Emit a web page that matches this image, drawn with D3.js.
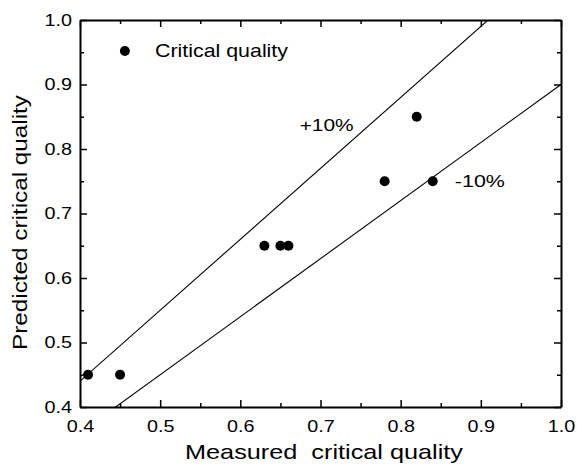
<!DOCTYPE html>
<html>
<head>
<meta charset="utf-8">
<script src="https://cdn.jsdelivr.net/npm/d3@7"></script>
<style>
  body { margin: 0; background: #fff; }
  text { font-family: "Liberation Sans", Arial, sans-serif; fill: #000; }
</style>
</head>
<body>
<div id="chart"></div>
<script>
// measured vs predicted critical quality
const measured  = [0.41, 0.45, 0.63, 0.65, 0.66, 0.78, 0.84, 0.82]
const predicted = [0.45, 0.45, 0.65, 0.65, 0.65, 0.75, 0.75, 0.85]
const majorTicks = [0.4, 0.5, 0.6, 0.7, 0.8, 0.9, 1.0]
const minorTicks = [0.45, 0.55, 0.65, 0.75, 0.85, 0.95]
const bandFactors = [1.1, 0.9]
const bandLabels = ['+10%', '-10%']

const width = 577, height = 465
const margin = {top: 20, right: 16, bottom: 58, left: 80}

let svg = d3.select('#chart').append('svg')
  .attr('width', width)
  .attr('height', height)

let x = d3.scaleLinear().domain([0.4, 1.0]).range([margin.left, width - margin.right])
let y = d3.scaleLinear().domain([0.4, 1.0]).range([height - margin.bottom, margin.top])

const pts = measured.map((m, i) => ({m: m, p: predicted[i]}))

// clip for the band lines
svg.append('clipPath').attr('id', 'plot-clip')
  .append('rect')
  .attr('x', x(0.4)).attr('y', y(1.0))
  .attr('width', x(1.0) - x(0.4)).attr('height', y(0.4) - y(1.0))

let lines = svg.append('g').attr('clip-path', 'url(#plot-clip)')
bandFactors.forEach(f => {
  lines.append('line')
    .attr('x1', x(0.4)).attr('y1', y(0.4 * f))
    .attr('x2', x(1.0)).attr('y2', y(1.0 * f))
    .attr('stroke', '#000')
    .attr('stroke-width', 1.1)
})

// axes, ticks pointing inward, mirrored top/right
const fmt = d3.format('.1f')
function addAxis(axisFn, scale, transform, showLabels) {
  let g = svg.append('g').attr('transform', transform)
    .call(axisFn(scale).tickValues(majorTicks).tickSizeInner(-7).tickSizeOuter(0)
      .tickFormat(showLabels ? fmt : ''))
  g.select('.domain').attr('stroke-width', 2)
  g.selectAll('.tick line').attr('stroke-width', 1.5)
  g.selectAll('text')
    .style('font-size', '17px')
    .attr('font-family', null)
    .attr('textLength', 27.5)
    .attr('lengthAdjust', 'spacingAndGlyphs')
  let m = svg.append('g').attr('transform', transform)
    .call(axisFn(scale).tickValues(minorTicks).tickSizeInner(-4).tickSizeOuter(0).tickFormat(''))
  m.select('.domain').remove()
  m.selectAll('.tick line').attr('stroke-width', 1.5)
  return g
}

let xb = addAxis(d3.axisBottom, x, `translate(0,${y(0.4)})`, true)
xb.selectAll('text').attr('y', 24.5).attr('dy', 0)
let yl = addAxis(d3.axisLeft, y, `translate(${x(0.4)},0)`, true)
yl.selectAll('text').attr('x', -8)
addAxis(d3.axisTop, x, `translate(0,${y(1.0)})`, false)
addAxis(d3.axisRight, y, `translate(${x(1.0)},0)`, false)

// points
svg.append('g').selectAll('circle')
  .data(pts)
  .enter()
  .append('circle')
  .attr('cx', d => x(d.m))
  .attr('cy', d => y(d.p))
  .attr('r', 5)
  .attr('fill', '#000')

// band labels
svg.append('text').attr('x', x(0.674)).attr('y', y(0.8284))
  .style('font-size', '17px').attr('textLength', 54).attr('lengthAdjust', 'spacingAndGlyphs')
  .text(bandLabels[0])
svg.append('text').attr('x', x(0.8676)).attr('y', y(0.741))
  .style('font-size', '17px').attr('textLength', 50).attr('lengthAdjust', 'spacingAndGlyphs')
  .text(bandLabels[1])

// legend
svg.append('circle').attr('cx', x(0.456)).attr('cy', y(0.952)).attr('r', 5).attr('fill', '#000')
svg.append('text').attr('x', 155).attr('y', 57)
  .style('font-size', '19px').attr('textLength', 133).attr('lengthAdjust', 'spacingAndGlyphs')
  .text('Critical quality')

// axis titles
svg.append('text')
  .attr('x', 185).attr('y', 459)
  .style('font-size', '21px')
  .style('white-space', 'pre')
  .attr('textLength', 278).attr('lengthAdjust', 'spacingAndGlyphs')
  .text('Measured  critical quality')

svg.append('text')
  .attr('transform', `translate(27,350) rotate(-90)`)
  .style('font-size', '21px')
  .attr('textLength', 255).attr('lengthAdjust', 'spacingAndGlyphs')
  .text('Predicted critical quality')
</script>
</body>
</html>
